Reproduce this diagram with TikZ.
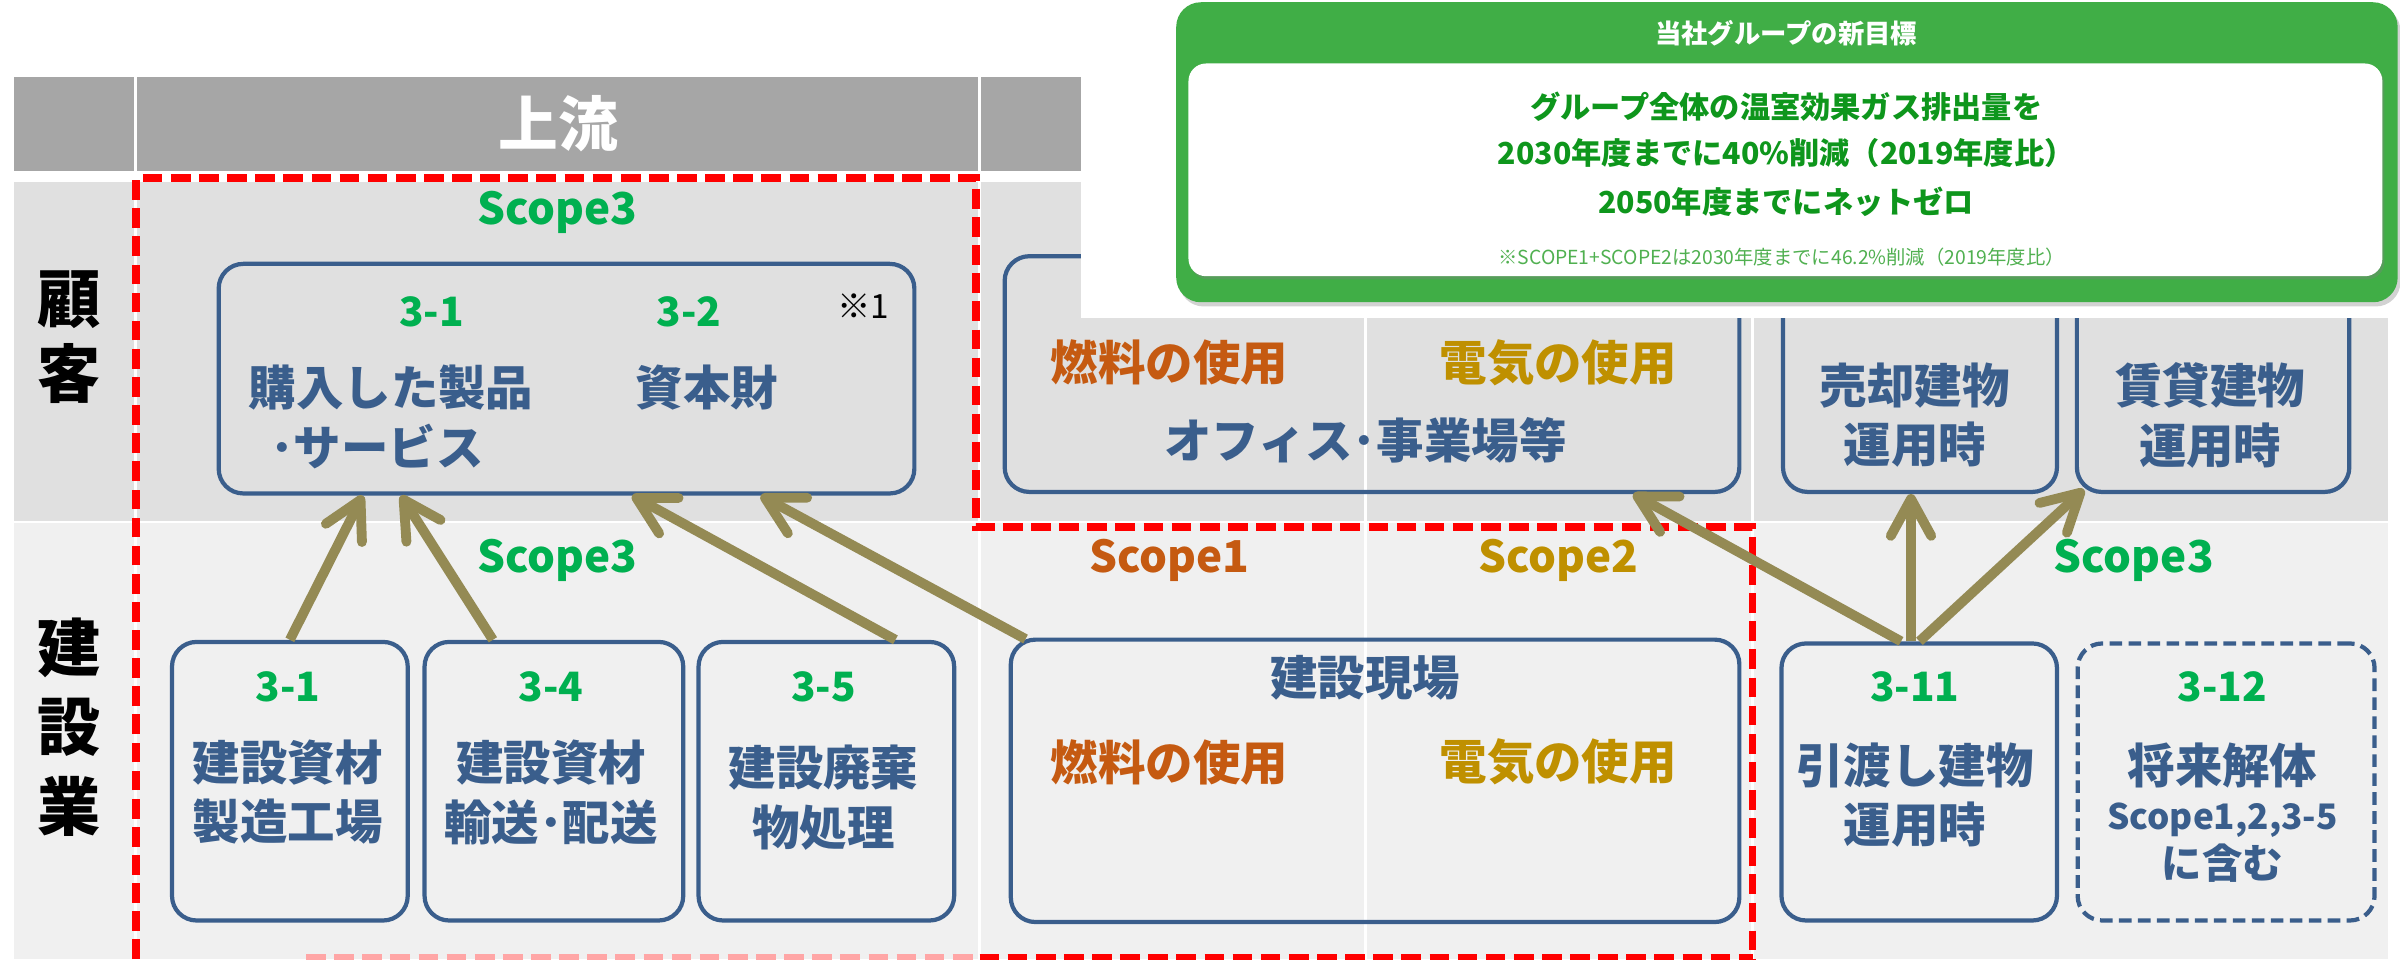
\documentclass[tikz,border=0pt]{standalone}
\usepackage{fontspec}
\setmainfont{Noto Sans CJK JP}
\usetikzlibrary{arrows.meta,shadows,calc}
\definecolor{hdrgray}{RGB}{166,166,166}
\definecolor{rowone}{RGB}{224,224,224}
\definecolor{rowtwo}{RGB}{240,240,240}
\definecolor{bblue}{RGB}{58,94,140}
\definecolor{sgreen}{RGB}{0,176,80}
\definecolor{sorange}{RGB}{197,90,17}
\definecolor{sgold}{RGB}{191,144,0}
\definecolor{arrolive}{RGB}{148,138,84}
\definecolor{gboxc}{RGB}{64,174,70}
\definecolor{gtext}{RGB}{14,150,28}
\definecolor{gnote}{RGB}{80,176,80}
\newcommand\pxu{0.0153061cm}
\begin{document}
\begin{tikzpicture}[x=\pxu, y=-\pxu,
  box/.style={draw=bblue, line width=1.2pt, rounded corners=7pt, inner sep=0pt, anchor=north west},
  btxt/.style={text=bblue, font=\fontsize{13.5}{17}\selectfont\bfseries, inner sep=0pt, align=center},
  num/.style={text=sgreen, font=\fontsize{11.5}{13}\selectfont\bfseries, inner sep=0pt},
  scp/.style={font=\fontsize{12.5}{14}\selectfont\bfseries, inner sep=0pt},
  rowlbl/.style={font=\fontsize{18}{21.3}\selectfont\bfseries, inner sep=0pt, align=center},
  arr/.style={draw=arrolive, line width=2.8pt, -{Straight Barb[length=10.5pt,width=11.5pt,round]}},
  reddash/.style={draw=red, line width=2.2pt, dash pattern=on 5.6pt off 2.4pt},
  divider/.style={draw=white, line width=0.8pt},
  gline/.style={text=gtext, font=\fontsize{8.6}{10}\selectfont\bfseries, inner sep=0pt}]
\useasboundingbox (0,0) rectangle (1568,626.6);
% backgrounds
\fill[hdrgray] (9,50) rectangle (1560,112);
\fill[rowone] (9,119) rectangle (1560,340.5);
\fill[rowtwo] (9,342) rectangle (1560,626.6);
\draw[divider] (88.5,50) -- (88.5,112) (640,50) -- (640,112);
\draw[divider] (88.5,119) -- (88.5,626.6) (640,119) -- (640,626.6)
  (892,119) -- (892,626.6) (1145,119) -- (1145,626.6);
% header and row labels
\node[text=white, font=\fontsize{17}{20}\selectfont\bfseries, inner sep=0pt] (upstream) at (365,81) {上流};
\node[rowlbl] (kokyaku) at (45,220.5) {顧\\客};
\node[rowlbl, font=\fontsize{18}{22.6}\selectfont\bfseries] (kensetsu) at (45,475) {建\\設\\業};
% scope labels
\node[scp, text=sgreen] (sc3a) at (364,139) {Scope3};
\node[scp, text=sgreen] (sc3b) at (364,366) {Scope3};
\node[scp, text=sorange] (sc1) at (764,366) {Scope1};
\node[scp, text=sgold] (sc2) at (1018,366) {Scope2};
\node[scp, text=sgreen] (sc3c) at (1394,366) {Scope3};
% row 1 boxes
\node[box, minimum width=454.5*\pxu, minimum height=150*\pxu] (b1) at (141.5,171) {};
\node[box, minimum width=480*\pxu, minimum height=154*\pxu] (b2) at (655,166) {};
\node[box, minimum width=179*\pxu, minimum height=145*\pxu] (b3) at (1163.5,175) {};
\node[box, minimum width=178*\pxu, minimum height=145*\pxu] (b4) at (1355.5,175) {};
\node[num] (n31a) at (282,204) {3-1};
\node[num] (n32) at (450,204) {3-2};
\node[font=\fontsize{9.5}{11}\selectfont, inner sep=0pt] (kome) at (564,200) {※1};
\node[btxt, anchor=west] (kounyu) at (162,253) {購入した製品};
\node[btxt, anchor=west] (service) at (176,292) {･サービス};
\node[btxt] (shihon) at (462,253) {資本財};
\node[btxt, text=sorange] (nenryo1) at (764,237) {燃料の使用};
\node[btxt, text=sgold] (denki1) at (1018,237) {電気の使用};
\node[btxt] (office) at (892,287.5) {オフィス･事業場等};
\node[btxt] (baikyaku) at (1251,271.25) {売却建物\\運用時};
\node[btxt] (chintai) at (1444,271.25) {賃貸建物\\運用時};
% row 2 boxes
\node[box, minimum width=154*\pxu, minimum height=182*\pxu] (c1) at (111,418) {};
\node[box, minimum width=169*\pxu, minimum height=182*\pxu] (c2) at (276,418) {};
\node[box, minimum width=167*\pxu, minimum height=182*\pxu] (c3) at (455,418) {};
\node[box, minimum width=476*\pxu, minimum height=184.5*\pxu] (c4) at (659,416.5) {};
\node[box, minimum width=180*\pxu, minimum height=181*\pxu] (c5) at (1162.5,419) {};
\node[box, dash pattern=on 3.6pt off 1.8pt, minimum width=194*\pxu, minimum height=181*\pxu] (c6) at (1356,419) {};
\node[num] (n31b) at (188,449) {3-1};
\node[btxt] (seizo) at (188,517.5) {建設資材\\製造工場};
\node[num] (n34) at (360,449) {3-4};
\node[btxt] (yuso) at (360,517.5) {建設資材\\輸送･配送};
\node[num] (n35) at (538,449) {3-5};
\node[btxt] (haiki) at (538,521) {建設廃棄\\物処理};
\node[btxt] (genba) at (892,443) {建設現場};
\node[btxt, text=sorange] (nenryo2) at (764,498) {燃料の使用};
\node[btxt, text=sgold] (denki2) at (1018,498) {電気の使用};
\node[num] (n311) at (1251,449) {3-11};
\node[btxt] (hikiwatashi) at (1251,519.5) {引渡し建物\\運用時};
\node[num] (n312) at (1452,449) {3-12};
\node[btxt] (kaitai) at (1452,500) {将来解体};
\node[btxt, font=\fontsize{10}{12}\selectfont\bfseries] (scope123) at (1452,536) {Scope1,2,3-5};
\node[btxt, font=\fontsize{11.5}{13}\selectfont\bfseries] (fukumu) at (1452,564) {に含む};
% red dashed boundary
\draw[reddash] (89,626.6) -- (89,116.5) -- (637.5,116.5) -- (637.5,344.5) -- (1145,344.5) -- (1145,626.6);
\draw[reddash, draw=red!35] (200,625.5) -- (640,625.5);
\draw[reddash] (640,625.5) -- (1145,625.5);
% arrows
\draw[arr] (c1.north) -- ($(b1.south west)+(95.5,0)$);
\draw[arr] ($(c2.north west)+(46,0)$) -- ($(b1.south west)+(120.5,0)$);
\draw[arr] ($(c3.north west)+(130,0)$) -- ($(b1.south west)+(271.5,0)$);
\draw[arr] ($(c4.north west)+(11,1)$) -- ($(b1.south west)+(355.5,0)$);
\draw[arr] ($(c5.north west)+(79.5,0)$) -- ($(b2.south west)+(412,0)$);
\draw[arr] ($(c5.north west)+(86,0)$) -- ($(b3.south west)+(85,0)$);
\draw[arr] ($(c5.north west)+(91.5,0)$) -- ($(b4.south west)+(6,-3)$);
% overlay goal panel
\fill[white] (706,0) rectangle (1568,208);
\node[fill=gboxc, rounded corners=7pt, inner sep=0pt, anchor=north west,
  minimum width=798*\pxu, minimum height=196*\pxu,
  drop shadow={shadow xshift=0.8pt, shadow yshift=-1.2pt, opacity=0.35}] (goal) at (768,1) {};
\node[fill=white, rounded corners=5pt, inner sep=0pt, anchor=north west,
  minimum width=780*\pxu, minimum height=139*\pxu,
  drop shadow={shadow xshift=0.6pt, shadow yshift=-0.9pt, opacity=0.35}] (goalin) at (776,41) {};
\node[text=white, font=\fontsize{7.5}{9}\selectfont\bfseries, inner sep=0pt] (gtitle) at (1167,22) {当社グループの新目標};
\node[gline] (gl1) at (1167,70) {グループ全体の温室効果ガス排出量を};
\node[gline] (gl2) at (1167,100) {2030年度までに40\%削減（2019年度比）};
\node[gline] (gl3) at (1167,132) {2050年度までにネットゼロ};
\node[text=gnote, font=\fontsize{5.5}{7}\selectfont, inner sep=0pt] (gnotetxt) at (1164,168) {※SCOPE1+SCOPE2は2030年度までに46.2\%削減（2019年度比）};
\end{tikzpicture}
\end{document}
